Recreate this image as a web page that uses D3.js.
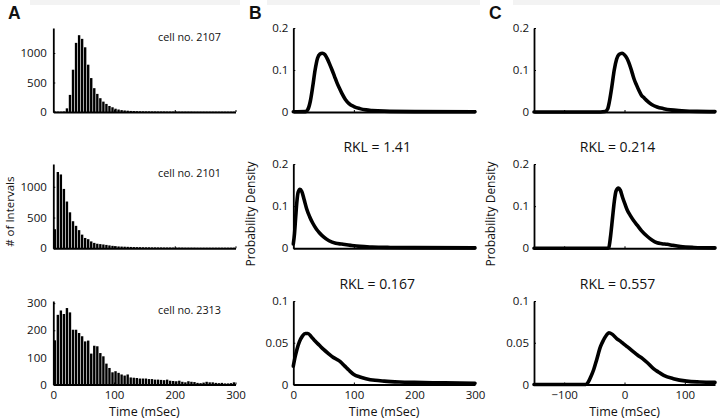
<!DOCTYPE html>
<html><head><meta charset="utf-8">
<script src="https://cdn.jsdelivr.net/npm/d3@7"></script>
<style>
html,body{margin:0;padding:0;background:#fff;}
svg{display:block;font-family:"Open Sans","DejaVu Sans",sans-serif;}
</style></head>
<body><svg id="chart" width="720" height="419"></svg>
<script>
// ---------- DATA ----------
const binWidth = 5; // ms
const cellNames = ["cell no. 2107", "cell no. 2101", "cell no. 2313"];
const hist2107 = [8,6,5,8,62,290,717,1172,1302,1240,1097,802,575,404,307,234,176,137,102,80,56,42,32,26,22,18,16,14,12,11,10,10,9,9,8,8,8,7,7,7,7,6,6,6,6,6,5,5,5,5,5,5,5,5,5,5,5,5,5,5];
const hist2101 = [310,1240,1200,965,760,585,440,365,295,222,168,148,112,88,74,68,62,55,47,40,35,30,28,26,24,22,20,19,18,17,16,16,15,15,14,14,13,13,13,12,12,12,12,11,11,11,11,10,10,10,10,10,10,10,10,10,10,10,10,10];
const hist2313 = [163,257,273,260,282,266,202,202,190,178,159,162,114,143,141,116,104,77,61,45,49,43,37,33,37,26,25,24,22,22,22,20,20,18,18,17,16,18,14,13,12,14,10,8,12,10,9,6,5,7,10,8,8,6,5,6,4,4,5,8];

const histYMax = [1424, 1370, 308];
const histYTicks = [[0,500,1000],[0,500,1000],[0,100,200,300]];
const timeTicksAB = [0,100,200,300];
const timeTicksC = [-100,0,100];

// Panel B densities (time in ms, density)
const bTime1 = [0,20,24,28,32,36,40,44,48,52,56,60,64,68,72,76,80,86,92,100,110,120,130,150,200,300];
const bDens1 = [0.0005,0.001,0.006,0.025,0.06,0.1,0.128,0.138,0.14,0.137,0.127,0.114,0.1,0.085,0.07,0.057,0.045,0.03,0.02,0.013,0.008,0.005,0.0035,0.002,0.001,0.0005];
const bTime2 = [0,2,4,6,8,11,14,18,22,27,32,38,43,50,59,70,80,95,110,130,160,200,300];
const bDens2 = [0.01,0.035,0.075,0.112,0.133,0.14,0.135,0.115,0.094,0.075,0.06,0.046,0.037,0.027,0.018,0.012,0.01,0.007,0.0045,0.003,0.002,0.0015,0.001];
const bTime3 = [0,3,6,10,15,20,24,30,36,43,50,58,65,72,78,85,92,100,110,120,135,150,175,200,250,300];
const bDens3 = [0.022,0.033,0.042,0.051,0.058,0.061,0.061,0.057,0.052,0.047,0.042,0.037,0.033,0.03,0.027,0.022,0.017,0.012,0.009,0.007,0.005,0.004,0.003,0.0025,0.002,0.0015];
const rklB = [null, "RKL = 1.41", "RKL = 0.167"];

// Panel C densities
const cTime1 = [-150,-40,-32,-28,-25,-21,-17,-13,-9,-4,0,4,7,10,13,16,20,24,28,33,37,45,54,65,76,95,120,150];
const cDens1 = [0,0,0.001,0.007,0.025,0.06,0.1,0.126,0.137,0.14,0.136,0.128,0.118,0.106,0.092,0.078,0.064,0.051,0.04,0.033,0.027,0.018,0.012,0.008,0.005,0.003,0.0015,0.001];
const cTime2 = [-150,-28,-26,-23,-20,-17,-14,-10,-7,-3,1,4.5,10,15,21,28,38,46,54,62,71,80,93,115,150];
const cDens2 = [0,0,0.002,0.03,0.07,0.11,0.136,0.143,0.138,0.12,0.104,0.091,0.077,0.066,0.055,0.042,0.028,0.019,0.013,0.011,0.0095,0.007,0.004,0.002,0.001];
const cTime3 = [-150,-64,-60,-56,-51,-46,-40,-35,-30,-26,-20,-13,-7,-2,5,15,22,30,38,48,56,65,81,103,125,150];
const cDens3 = [0,0,0.003,0.009,0.018,0.03,0.045,0.053,0.059,0.062,0.06,0.055,0.052,0.049,0.045,0.039,0.035,0.031,0.026,0.019,0.015,0.011,0.007,0.004,0.003,0.0025];
const rklC = [null, "RKL = 0.214", "RKL = 0.557"];

const densYMax = [0.2, 0.2, 0.1];
const densYTicks = [[0,0.1,0.2],[0,0.1,0.2],[0,0.05,0.1]];

// ---------- LAYOUT ----------
const svg = d3.select("#chart");
const cols = {A:[53.3,235.5], B:[293.3,475], C:[534,715]};
const rows = [[28,112],[164,248.3],[301,384.5]];
const FS = 11.5;

// faint top band
svg.append("rect").attr("x",30).attr("y",0).attr("width",690).attr("height",5).attr("fill","#f3f3f3");
[[240,27],[480,33]].forEach(([x,w])=>svg.append("rect").attr("x",x).attr("y",0).attr("width",w).attr("height",6).attr("fill","#fff"));

function styleAxis(g, sw){
  g.select(".domain").attr("stroke","#000").attr("stroke-width",sw);
  g.selectAll(".tick line").attr("stroke","#000").attr("stroke-width",1);
  g.selectAll(".tick text").attr("fill","#111").style("font-size",FS+"px").style("font-family",'"Open Sans",sans-serif');
}

function drawAxes(x, y, r, yTicks, xTicks, showXLabels, yFmt, yPad){
  const [yTop,y0] = rows[r];
  const gy = svg.append("g").attr("transform",`translate(${x.range()[0]},0)`)
    .call(d3.axisLeft(y).tickValues(yTicks).tickSizeInner(-2).tickSizeOuter(0).tickPadding(yPad).tickFormat(yFmt));
  styleAxis(gy, 1.8);
  const gx = svg.append("g").attr("transform",`translate(0,${y0})`)
    .call(d3.axisBottom(x).tickValues(xTicks).tickSizeInner(-2).tickSizeOuter(0).tickPadding(6)
      .tickFormat(d => showXLabels ? (d<0 ? "\u2212"+Math.abs(d) : String(d)) : ""));
  styleAxis(gx, 2);
}

// ---------- COLUMN A: histograms ----------
const hists = [hist2107, hist2101, hist2313];
hists.forEach((h, r) => {
  const [yTop,y0] = rows[r];
  const x = d3.scaleLinear().domain([0,300]).range(cols.A);
  const y = d3.scaleLinear().domain([0,histYMax[r]]).range([y0,yTop]);
  svg.append("g").selectAll("rect").data(h).join("rect")
    .attr("x",(d,i)=>x(i*binWidth)+0.3)
    .attr("width",(d,i)=>x((i+1)*binWidth)-x(i*binWidth)-0.65)
    .attr("y",d=>y(d)).attr("height",d=>y0-y(d)).attr("fill","#000");
  drawAxes(x,y,r,histYTicks[r],timeTicksAB,r===2,d3.format("d"),6.5);
  svg.append("text").attr("x",158).attr("y",(yTop+y0)/2 - 29).attr("font-size",10.8).attr("fill","#111").text(cellNames[r]);
});

// ---------- COLUMNS B & C: densities ----------
function densPanel(col, r, times, dens, xdom, xticks, title){
  const [yTop,y0] = rows[r];
  const x = d3.scaleLinear().domain(xdom).range(cols[col]);
  const y = d3.scaleLinear().domain([0,densYMax[r]]).range([y0,yTop]);
  drawAxes(x,y,r,densYTicks[r],xticks,r===2,d=> d===0?"0":String(d),5);
  const pts = times.map((t,i)=>[t,dens[i]]);
  svg.append("path").datum(pts)
    .attr("d", d3.line().x(d=>x(d[0])).y(d=>y(d[1])).curve(d3.curveMonotoneX))
    .attr("fill","none").attr("stroke","#000").attr("stroke-width",3.6).attr("stroke-linejoin","round").attr("stroke-linecap","round");
  if(title){
    svg.append("text").attr("x",(cols[col][0]+cols[col][1])/2 - 7).attr("y",yTop-12.5)
      .attr("text-anchor","middle").attr("font-size",14).attr("fill","#111").text(title);
  }
}
densPanel("B",0,bTime1,bDens1,[0,300],timeTicksAB,rklB[0]);
densPanel("B",1,bTime2,bDens2,[0,300],timeTicksAB,rklB[1]);
densPanel("B",2,bTime3,bDens3,[0,300],timeTicksAB,rklB[2]);
densPanel("C",0,cTime1,cDens1,[-150,150],timeTicksC,rklC[0]);
densPanel("C",1,cTime2,cDens2,[-150,150],timeTicksC,rklC[1]);
densPanel("C",2,cTime3,cDens3,[-150,150],timeTicksC,rklC[2]);

// ---------- LABELS ----------
[["A",8],["B",249],["C",489]].forEach(([t,x])=>{
  svg.append("text").attr("x",x).attr("y",18.5).attr("font-size",17.5).attr("font-weight","bold")
    .style("font-family",'"Liberation Sans",Arial,sans-serif').attr("fill","#111").text(t);
});
[["A",cols.A],["B",cols.B],["C",cols.C]].forEach(([k,c])=>{
  svg.append("text").attr("x",(c[0]+c[1])/2).attr("y",416).attr("text-anchor","middle")
    .attr("font-size",12.5).attr("fill","#111").text("Time (mSec)");
});
svg.append("text").attr("transform","translate(13.5,211.7) rotate(-90)").attr("text-anchor","middle")
  .attr("font-size",11.5).attr("fill","#111").text("# of Intervals");
[254.5,494.5].forEach(x=>{
  svg.append("text").attr("transform",`translate(${x},214) rotate(-90)`).attr("text-anchor","middle")
    .attr("font-size",12).attr("fill","#111").text("Probability Density");
});
</script></body></html>
